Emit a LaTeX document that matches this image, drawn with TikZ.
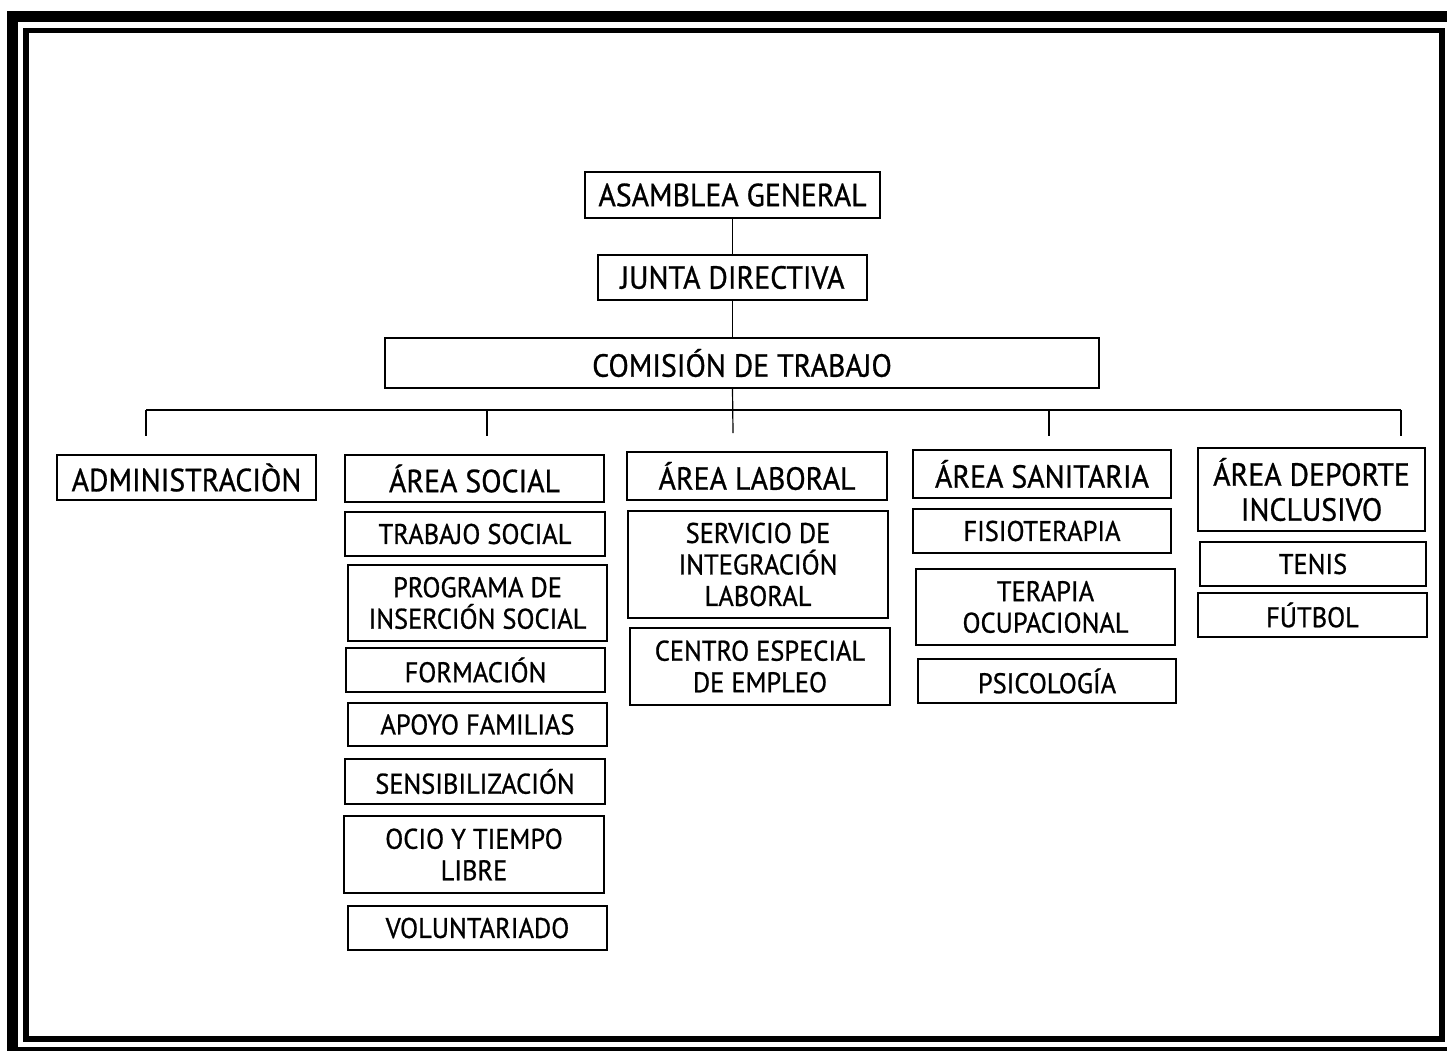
\documentclass[tikz,border=0pt]{standalone}
\usepackage{fontspec}
\setmainfont{PT Sans}
\newfontfamily\orgfont{PT Sans}[FakeStretch=0.93,FakeBold=0.8]
\begin{document}
\begin{tikzpicture}[x=1pt,y=-1pt,
  big/.style={draw=black,line width=1.6pt,rectangle,inner sep=0pt,align=center,
    font=\orgfont\fontsize{32}{35}\selectfont},
  small/.style={draw=black,line width=1.6pt,rectangle,inner sep=0pt,align=center,
    font=\orgfont\fontsize{28.4}{31.5}\selectfont},
  conn/.style={draw=black,line width=1.2pt},
  frameouter/.style={draw=black,line width=11pt},
  frameinner/.style={draw=black,line width=5.5pt}]
\useasboundingbox (0,0) rectangle (1447,1050);
% frame
\draw[frameouter] (12.5,16) rectangle (1456,1052);
\draw[frameinner] (26,30.5) rectangle (1442,1039);
% top levels
\node[big,minimum width=295pt,minimum height=46pt] (asam) at (732.5,195) {ASAMBLEA GENERAL};
\node[big,minimum width=269pt,minimum height=45pt] (junta) at (732.5,277.5) {JUNTA DIRECTIVA};
\node[big,minimum width=714pt,minimum height=50pt] (comision) at (742,363) {COMISIÓN DE TRABAJO};
% areas
\node[big,minimum width=259pt,minimum height=45pt] (admin) at (186.5,477.5) {ADMINISTRACIÒN};
\node[big,minimum width=259pt,minimum height=47pt] (social) at (474.5,478.5) {ÁREA SOCIAL};
\node[big,minimum width=260pt,minimum height=48pt] (laboral) at (757,476) {ÁREA LABORAL};
\node[big,minimum width=258pt,minimum height=48pt] (sanit) at (1042,474) {ÁREA SANITARIA};
\node[big,minimum width=227pt,minimum height=83pt] (deporte) at (1311.5,489.5) {ÁREA DEPORTE\\INCLUSIVO};
% social
\node[small,minimum width=260pt,minimum height=44pt] (ts) at (475,534) {TRABAJO SOCIAL};
\node[small,minimum width=259pt,minimum height=76pt] (pis) at (477.5,603) {PROGRAMA DE\\INSERCIÓN SOCIAL};
\node[small,minimum width=259pt,minimum height=44pt] (form) at (475.5,670) {FORMACIÓN};
\node[small,minimum width=259pt,minimum height=43pt] (apoyo) at (477.5,724.5) {APOYO FAMILIAS};
\node[small,minimum width=260pt,minimum height=45pt] (sens) at (475,781.5) {SENSIBILIZACIÓN};
\node[small,minimum width=260pt,minimum height=77pt] (ocio) at (474,854.5) {OCIO Y TIEMPO\\LIBRE};
\node[small,minimum width=259pt,minimum height=44pt] (volu) at (477.5,928) {VOLUNTARIADO};
% laboral
\node[small,minimum width=260pt,minimum height=107pt] (sil) at (758,564.5) {SERVICIO DE\\INTEGRACIÓN\\LABORAL};
\node[small,minimum width=260pt,minimum height=77pt] (cee) at (760,666.5) {CENTRO ESPECIAL\\DE EMPLEO};
% sanitaria
\node[small,minimum width=258pt,minimum height=44pt] (fisio) at (1042,531) {FISIOTERAPIA};
\node[small,minimum width=259pt,minimum height=76pt] (tocup) at (1045.5,607) {TERAPIA\\OCUPACIONAL};
\node[small,minimum width=258pt,minimum height=44pt] (psico) at (1047,681) {PSICOLOGÍA};
% deporte
\node[small,minimum width=226pt,minimum height=44pt] (tenis) at (1313,564) {TENIS};
\node[small,minimum width=229pt,minimum height=44pt] (futbol) at (1312.5,615) {FÚTBOL};
% connectors
\draw[conn] (asam.south) -- (junta.north);
\draw[conn] (junta.south) -- (junta.south |- comision.north);
\coordinate (busL) at (146,410);
\coordinate (busR) at (1401,410);
\coordinate (dAdmin) at (146,436);
\coordinate (dSocial) at (487,436);
\coordinate (dCenter) at (733,433);
\coordinate (dSanit) at (1049,436);
\coordinate (dDep) at (1401,436);
\draw[conn] (busL) -- (busR);
\draw[conn] (junta.south |- comision.south) -- (dCenter);
\draw[conn] (dAdmin |- busL) -- (dAdmin);
\draw[conn] (dSocial |- busL) -- (dSocial);
\draw[conn] (dSanit |- busL) -- (dSanit);
\draw[conn] (dDep |- busL) -- (dDep);
\end{tikzpicture}
\end{document}
